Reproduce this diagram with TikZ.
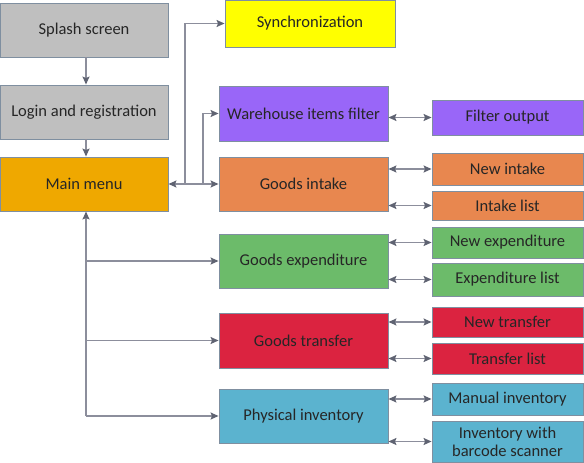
\documentclass[tikz,border=0pt]{standalone}
\usepackage{fontspec}
\setmainfont{Carlito}
\usetikzlibrary{arrows.meta,calc}
\definecolor{cgray}{HTML}{BFBFBF}
\definecolor{cyellow}{HTML}{FFFF00}
\definecolor{cpurple}{HTML}{9966F8}
\definecolor{corange}{HTML}{E8874F}
\definecolor{camber}{HTML}{EFA800}
\definecolor{cgreen}{HTML}{6CBB6A}
\definecolor{cred}{HTML}{DB2340}
\definecolor{cblue}{HTML}{5BB3CF}
\definecolor{cborder}{HTML}{7F8FA0}
\definecolor{cline}{HTML}{8C8E9C}
\definecolor{ctip}{HTML}{5F6372}
\definecolor{ctext}{HTML}{262626}
\tikzset{
  box/.style={draw=cborder, line width=0.9pt, rectangle, inner sep=1pt, align=center,
    text=ctext, font=\fontsize{16.5}{18}\selectfont},
  conn/.style={draw=cline, line width=1.4pt,
    arrows={-Stealth[length=8pt,width=7pt,inset=1.5pt,color=ctip]}},
  dconn/.style={draw=cline, line width=1.4pt,
    arrows={Stealth[length=8pt,width=7pt,inset=1.5pt,color=ctip]-Stealth[length=8pt,width=7pt,inset=1.5pt,color=ctip]}},
}
\begin{document}
\begin{tikzpicture}[x=1pt,y=-1pt]
\useasboundingbox (0,0) rectangle (584,463);
% left column
\node[box, fill=cgray, minimum width=168pt, minimum height=54pt] (splash) at (84,30) {Splash screen};
\node[box, fill=cgray, minimum width=168pt, minimum height=54pt] (login) at (84,112) {Login and registration};
\node[box, fill=camber, minimum width=168pt, minimum height=54pt] (main) at (84,184) {Main menu};
% middle column
\node[box, fill=cyellow, minimum width=170pt, minimum height=47pt] (sync) at (310,23.5) {Synchronization};
\node[box, fill=cpurple, minimum width=169pt, minimum height=55pt] (wh) at (303.5,113.5) {Warehouse items filter};
\node[box, fill=corange, minimum width=169pt, minimum height=54pt] (intake) at (303.5,184) {Goods intake};
\node[box, fill=cgreen, minimum width=169pt, minimum height=54pt] (exp) at (303.5,261) {Goods expenditure};
\node[box, fill=cred, minimum width=169pt, minimum height=55pt] (trans) at (303.5,340.5) {Goods transfer};
\node[box, fill=cblue, minimum width=169pt, minimum height=54pt] (phys) at (303.5,416) {Physical inventory};
% right column
\node[box, fill=cpurple, minimum width=151pt, minimum height=35pt] (fo) at (507.5,117.5) {Filter output};
\node[box, fill=corange, minimum width=151pt, minimum height=32pt] (ni) at (507.5,169) {New intake};
\node[box, fill=corange, minimum width=151pt, minimum height=29pt] (il) at (507.5,205.5) {Intake list};
\node[box, fill=cgreen, minimum width=151pt, minimum height=31pt] (ne) at (507.5,242.5) {New expenditure};
\node[box, fill=cgreen, minimum width=151pt, minimum height=33pt] (el) at (507.5,279.5) {Expenditure list};
\node[box, fill=cred, minimum width=151pt, minimum height=30pt] (nt) at (507.5,322) {New transfer};
\node[box, fill=cred, minimum width=151pt, minimum height=31pt] (tl) at (507.5,358.5) {Transfer list};
\node[box, fill=cblue, minimum width=151pt, minimum height=32pt] (mi) at (507.5,399) {Manual inventory};
\node[box, fill=cblue, minimum width=151pt, minimum height=41pt] (bi) at (507.5,441.5) {Inventory with\\barcode scanner};
% helper coordinates
\coordinate (lx) at (86,0);
\coordinate (sx) at (185,0);
\coordinate (wx) at (203,0);
% left column connectors
\draw[conn] (splash.south -| lx) -- (login.north -| lx);
\draw[conn] (login.south -| lx) -- (main.north -| lx);
\draw[conn] (lx |- phys.west) -- (main.south -| lx);
\draw[conn] (lx |- exp.west) -- (exp.west);
\draw[conn] (lx |- trans.west) -- (trans.west);
\draw[conn] (lx |- phys.west) -- (phys.west);
% main menu to top
\draw[dconn] (main.east) -- (main.east -| sx) |- (sync.west);
\draw[conn] (main.east -| sx) -- (intake.west);
\draw[conn] (main.east -| wx) |- (wh.west);
% right connectors
\draw[dconn] (wh.east |- fo.west) -- (fo.west);
\draw[dconn] (intake.east |- ni.west) -- (ni.west);
\draw[dconn] (intake.east |- il.west) -- (il.west);
\draw[dconn] (exp.east |- ne.west) -- (ne.west);
\draw[dconn] (exp.east |- el.west) -- (el.west);
\draw[dconn] (trans.east |- nt.west) -- (nt.west);
\draw[dconn] (trans.east |- tl.west) -- (tl.west);
\draw[dconn] (phys.east |- mi.west) -- (mi.west);
\draw[dconn] (phys.east |- bi.west) -- (bi.west);
\end{tikzpicture}
\end{document}
